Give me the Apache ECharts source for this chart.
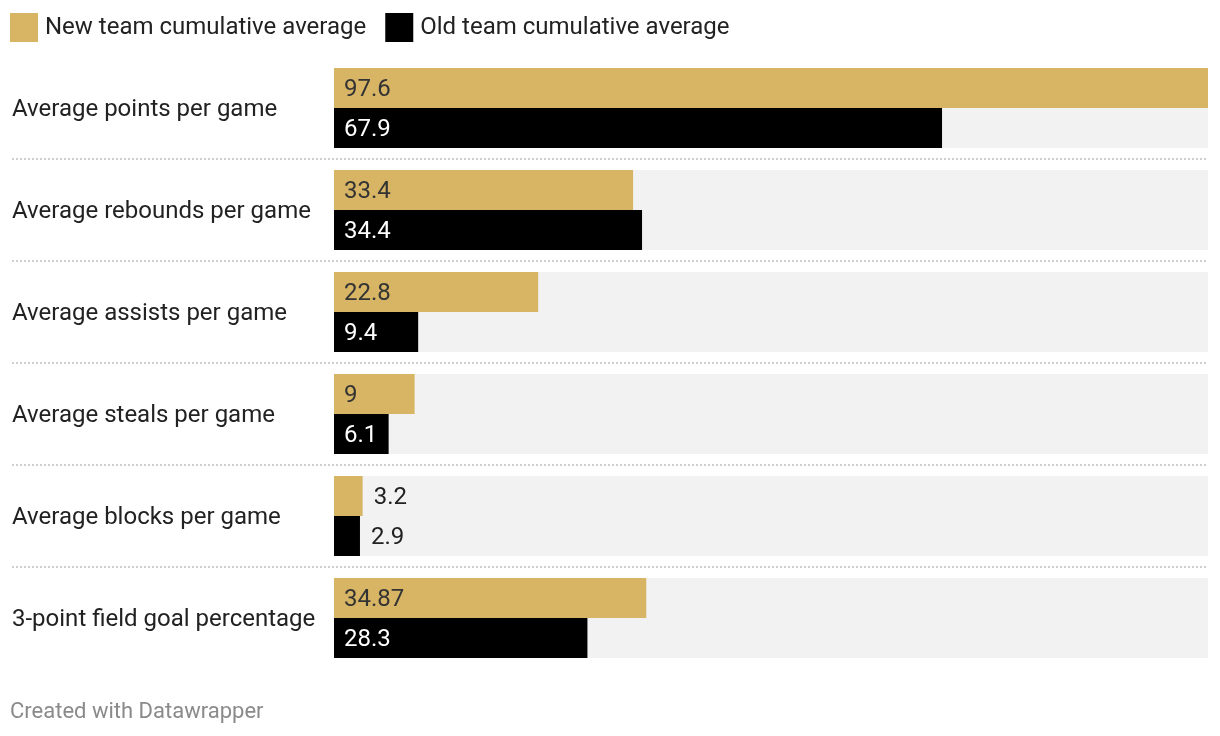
<!DOCTYPE html>
<html>
<head>
<meta charset="utf-8">
<script src="https://cdn.jsdelivr.net/npm/echarts@6/dist/echarts.min.js"></script>
<style>
html,body{margin:0;padding:0;background:#fff;}
#chart{width:1220px;height:736px;}
</style>
</head>
<body>
<div id="chart"></div>
<script>
const categories = [
  'Average points per game',
  'Average rebounds per game',
  'Average assists per game',
  'Average steals per game',
  'Average blocks per game',
  '3-point field goal percentage'
];
const newTeam = [97.6, 33.4, 22.8, 9, 3.2, 34.87];
const oldTeam = [67.9, 34.4, 9.4, 6.1, 2.9, 28.3];
const seriesNames = ['New team cumulative average', 'Old team cumulative average'];
const footer = 'Created with Datawrapper';

const GOLD = '#d7b564';
const FONT = 'Roboto, "Noto Sans", sans-serif';
const maxVal = Math.max(...newTeam, ...oldTeam);

function items(values, insideColor) {
  return values.map(v => {
    const small = v < 5;
    return {
      value: v,
      label: {
        position: small ? 'right' : 'insideLeft',
        distance: small ? 11 : 10,
        color: small ? '#222' : insideColor
      }
    };
  });
}

const chart = echarts.init(document.getElementById('chart'), null, {renderer: 'canvas'});
chart.setOption({
  animation: false,
  textStyle: {fontFamily: FONT},
  title: {
    text: footer,
    left: 5, top: 696,
    textStyle: {fontFamily: FONT, fontSize: 22, fontWeight: 'normal', color: '#8a8a8a'}
  },
  legend: {
    left: 5, top: 8,
    itemWidth: 28, itemHeight: 29, itemGap: 19,
    icon: 'rect',
    data: seriesNames,
    textStyle: {fontFamily: FONT, fontSize: 24, color: '#222', padding: [0,0,0,2]}
  },
  grid: [
    {left: 334, right: 12, top: 57, height: 612, containLabel: false},
    {left: 12, right: 12, top: 57, height: 612, containLabel: false}
  ],
  xAxis: [
    {gridIndex: 0, type: 'value', min: 0, max: maxVal, show: false},
    {gridIndex: 1, type: 'value', min: 0, max: 1, show: false}
  ],
  yAxis: [
    {
      gridIndex: 0, type: 'category', data: categories, inverse: true,
      axisLine: {show: false}, axisTick: {show: false}, splitLine: {show: false},
      axisLabel: {
        align: 'left', margin: 322,
        formatter: '{a|{value}}',
        rich: {a: {fontFamily: FONT, fontSize: 24, color: '#222', padding: [4, 0, 0, 0]}},
        fontFamily: FONT, fontSize: 24, color: '#222'
      }
    },
    {
      gridIndex: 1, type: 'category', data: categories, inverse: true,
      axisLine: {show: false}, axisTick: {show: false}, axisLabel: {show: false},
      splitLine: {
        show: true, showMinLine: false, showMaxLine: false,
        lineStyle: {color: '#cfcfcf', width: 2, type: [2, 2]}
      }
    }
  ],
  series: [
    {
      name: seriesNames[0], type: 'bar', xAxisIndex: 0, yAxisIndex: 0,
      barWidth: 40, barGap: '0%',
      itemStyle: {color: GOLD},
      showBackground: true, backgroundStyle: {color: '#f2f2f2'},
      label: {show: true, fontFamily: FONT, fontSize: 24, offset: [0, 2]},
      data: items(newTeam, '#333')
    },
    {
      name: seriesNames[1], type: 'bar', xAxisIndex: 0, yAxisIndex: 0,
      barWidth: 40, barGap: '0%',
      itemStyle: {color: '#000'},
      showBackground: true, backgroundStyle: {color: '#f2f2f2'},
      label: {show: true, fontFamily: FONT, fontSize: 24, offset: [0, 2]},
      data: items(oldTeam, '#fff')
    }
  ]
});
</script>
</body>
</html>
